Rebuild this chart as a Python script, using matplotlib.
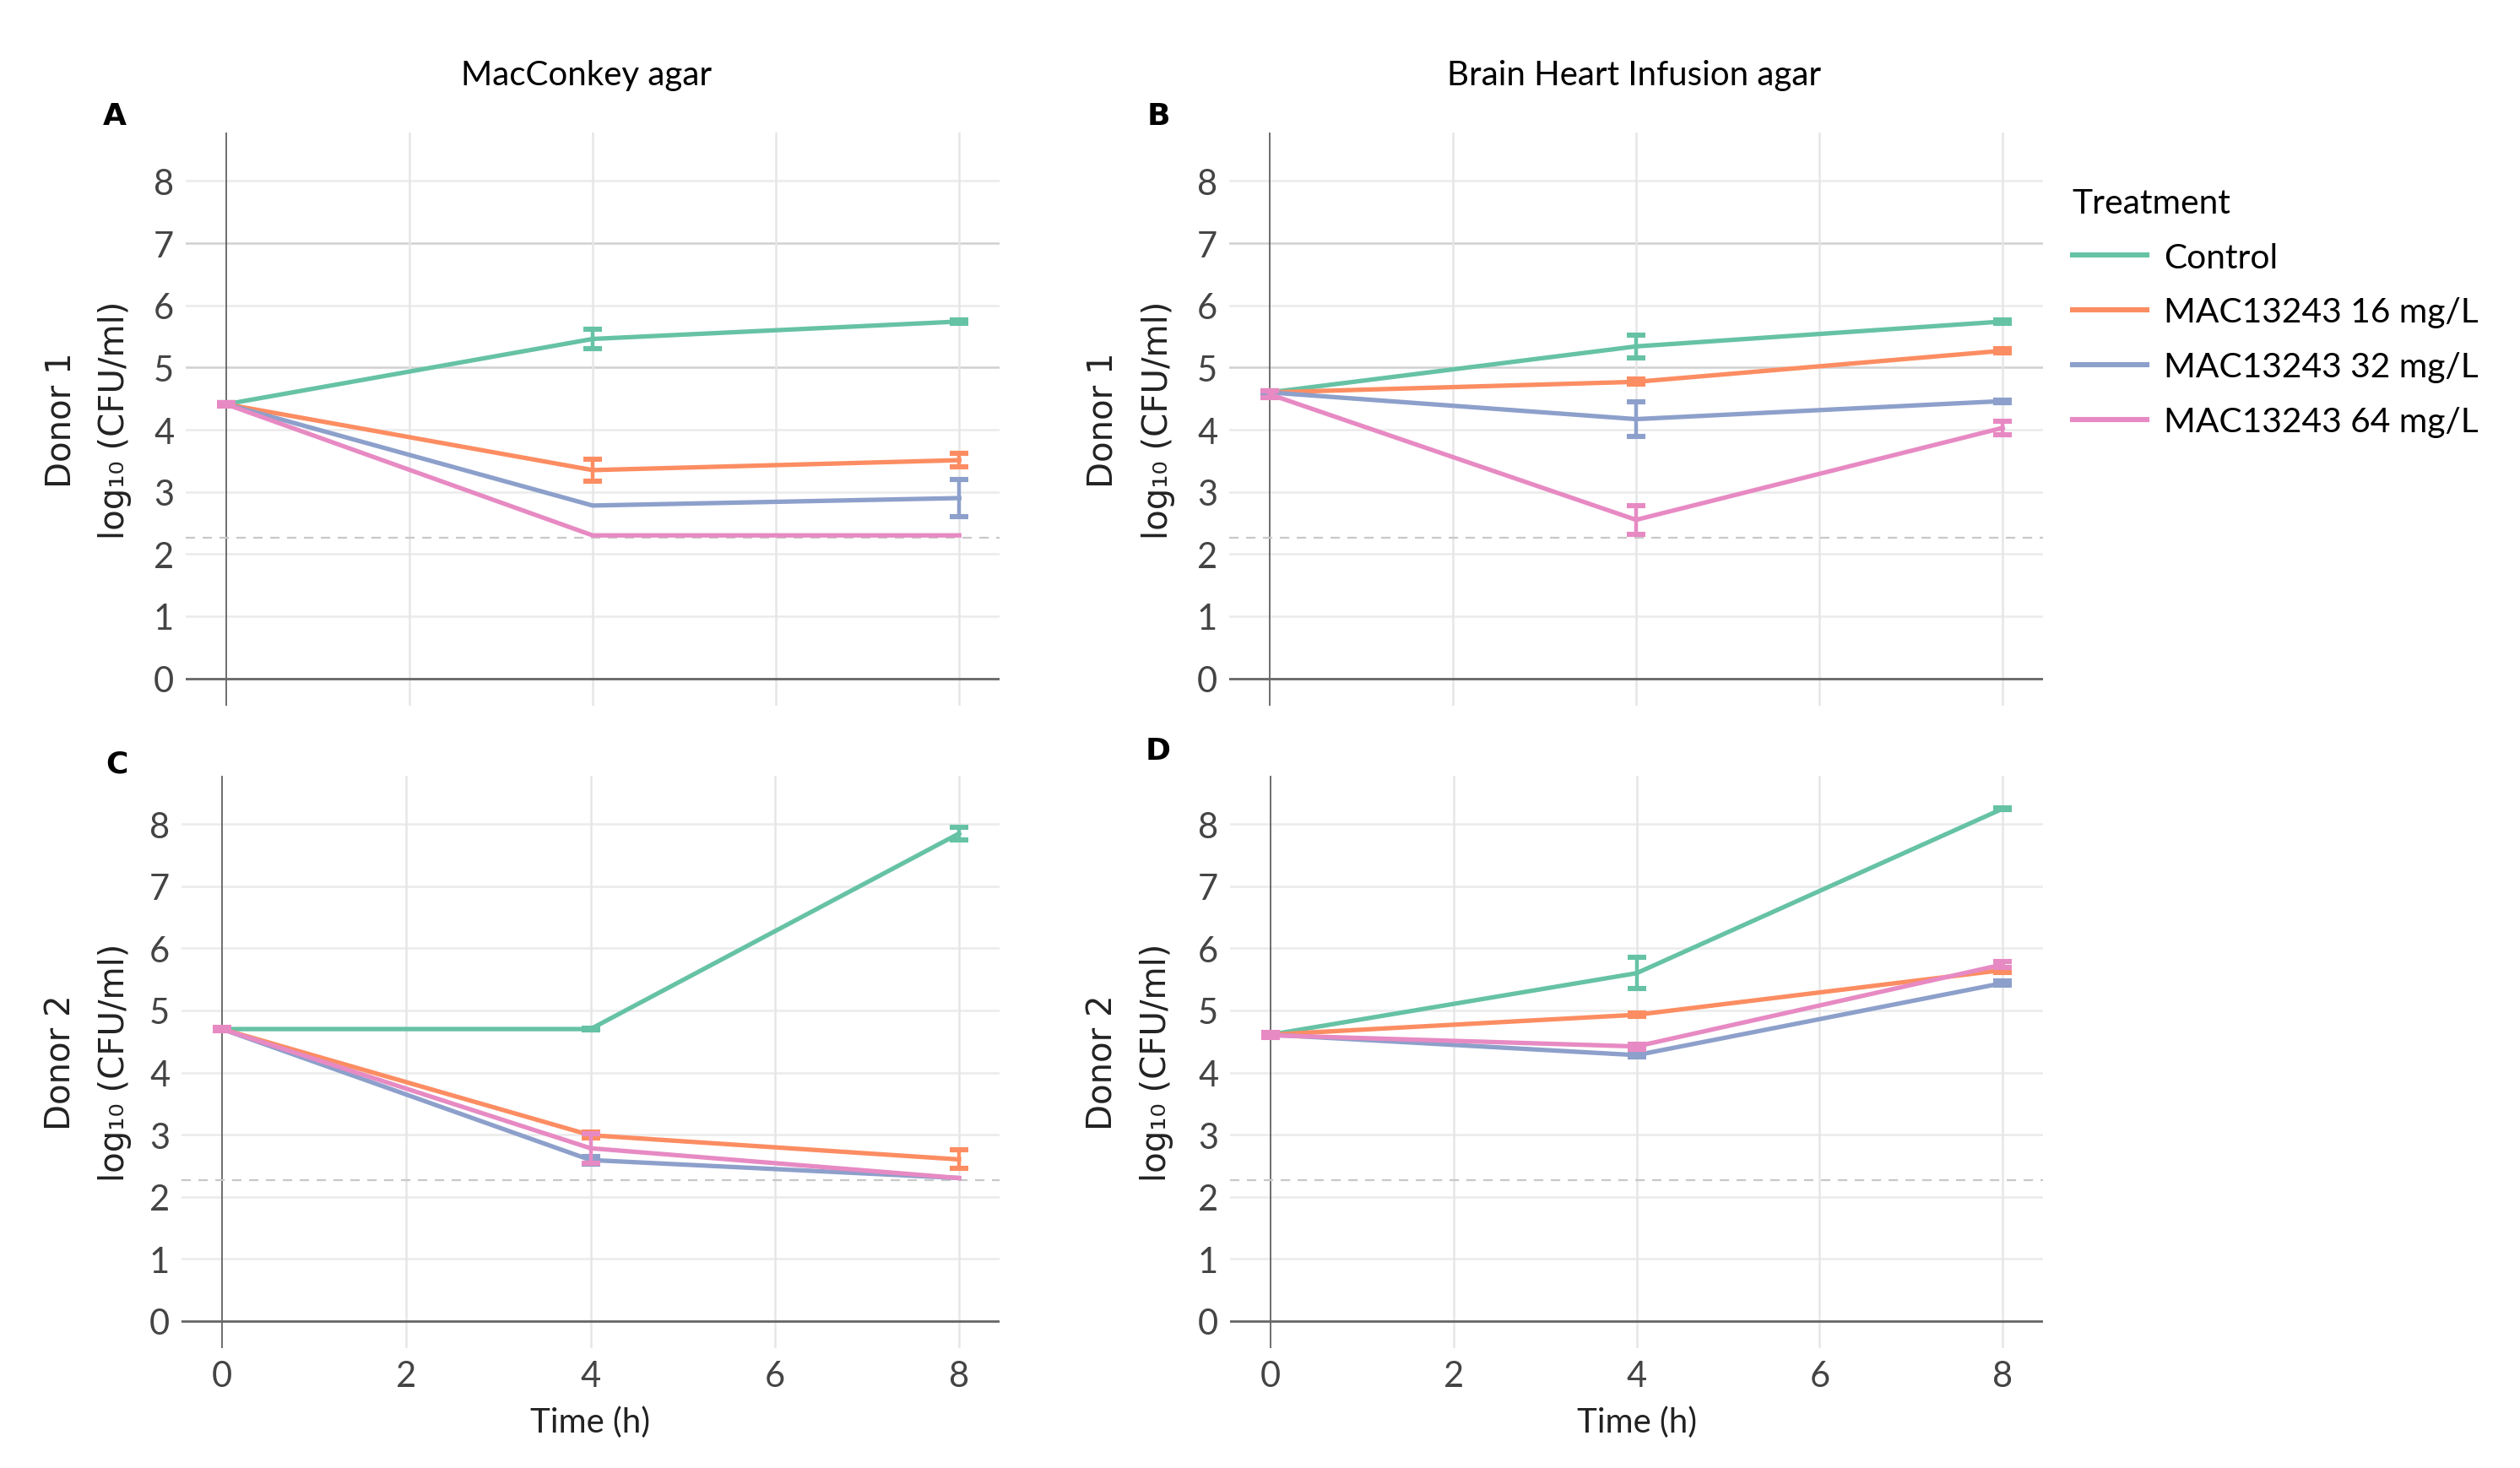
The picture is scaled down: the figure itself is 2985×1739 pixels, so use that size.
import matplotlib.pyplot as plt
from matplotlib.lines import Line2D
import numpy as np

# time points (h)
times = [0, 4, 8]
treatments = ['Control', 'MAC13243 16 mg/L', 'MAC13243 32 mg/L', 'MAC13243 64 mg/L']
colors = ['#66c2a5', '#fc8d62', '#8da0cb', '#e78ac3']
nan = np.nan

# log10 CFU/ml, rows = treatments
mac_d1 = [[4.41, 5.46, 5.74], [4.41, 3.35, 3.51], [4.41, 2.78, 2.90], [4.41, 2.30, 2.30]]
mac_d1_err = [[0.02, 0.16, 0.03], [0.02, 0.18, 0.11], [0.02, nan, 0.30], [0.03, nan, nan]]

bhi_d1 = [[4.60, 5.34, 5.74], [4.60, 4.77, 5.27], [4.60, 4.17, 4.46], [4.57, 2.55, 4.03]]
bhi_d1_err = [[0.02, 0.18, 0.03], [0.02, 0.04, 0.03], [0.02, 0.28, 0.02], [0.05, 0.23, 0.11]]

mac_d2 = [[4.70, 4.70, 7.85], [4.70, 2.99, 2.60], [4.70, 2.59, 2.30], [4.70, 2.78, 2.30]]
mac_d2_err = [[0.02, 0.02, 0.10], [0.02, 0.05, 0.15], [0.02, 0.06, nan], [0.03, 0.24, nan]]

bhi_d2 = [[4.61, 5.60, 8.25], [4.61, 4.93, 5.65], [4.61, 4.28, 5.44], [4.60, 4.42, 5.74]]
bhi_d2_err = [[0.02, 0.25, 0.02], [0.02, 0.03, 0.04], [0.02, 0.03, 0.03], [0.04, 0.04, 0.05]]

detection_limit = 2.26
yticks = [0, 1, 2, 3, 4, 5, 6, 7, 8]
xticks = [0, 2, 4, 6, 8]

W, H = 2985, 1740
fig = plt.figure(figsize=(W / 200, H / 200), dpi=200)

narrow = 'Lato'


def px_axes(x0, y0, x1, y1):
    # axes from pixel box (top-left origin)
    return fig.add_axes([x0 / W, 1 - y1 / H, (x1 - x0) / W, (y1 - y0) / H])


panels = [
    (px_axes(220, 158, 1184, 837), mac_d1, mac_d1_err, False),
    (px_axes(1456, 158, 2420, 837), bhi_d1, bhi_d1_err, False),
    (px_axes(215, 920, 1184, 1598), mac_d2, mac_d2_err, True),
    (px_axes(1457, 920, 2420, 1598), bhi_d2, bhi_d2_err, True),
]

for ax, means, errs, bottom in panels:
    ax.set_xlim(-0.44, 8.44)
    ax.set_ylim(-0.44, 8.78)
    for s in ax.spines.values():
        s.set_visible(False)

    # grid
    for y in yticks[1:]:
        c = '#d0d0d0' if (not bottom and y in (5, 7)) else '#ebebeb'
        ax.axhline(y, color=c, lw=0.9, zorder=0)
    for x in xticks[1:]:
        ax.axvline(x, color='#e6e6e6', lw=0.9, zorder=0)
    ax.axvline(0, color='#555555', lw=0.6, zorder=1)
    ax.axhline(0, color='#666666', lw=1.0, zorder=1)
    ax.axhline(detection_limit, color='#c8c8c8', lw=0.8, ls=(0, (5, 4)), zorder=1)

    for i in range(4):
        ax.errorbar(times, means[i], yerr=errs[i], color=colors[i], lw=1.9,
                    elinewidth=1.6, capsize=3.8, capthick=2.2, zorder=3 + i)

    ax.set_yticks(yticks)
    ax.set_xticks(xticks)
    ax.tick_params(length=0, labelsize=15, labelcolor='#444444', pad=5)
    for lab in ax.get_yticklabels() + ax.get_xticklabels():
        lab.set_family(narrow)
    if not bottom:
        ax.set_xticklabels([])
    else:
        ax.set_xlabel('Time (h)', fontsize=14.5, family=narrow, labelpad=6, color='#222222')

# y labels (two lines), panel letters, column titles
ylab = dict(rotation=90, ha='center', va='center', fontsize=14.5, color='#222222')
fig.text(72 / W, 1 - 498 / H, 'Donor 1', **ylab)
fig.text(136 / W, 1 - 498 / H, 'log₁₀ (CFU/ml)', **ylab)
fig.text(1306 / W, 1 - 498 / H, 'Donor 1', **ylab)
fig.text(1372 / W, 1 - 498 / H, 'log₁₀ (CFU/ml)', **ylab)
fig.text(72 / W, 1 - 1259 / H, 'Donor 2', **ylab)
fig.text(136 / W, 1 - 1259 / H, 'log₁₀ (CFU/ml)', **ylab)
fig.text(1306 / W, 1 - 1259 / H, 'Donor 2', **ylab)
fig.text(1370 / W, 1 - 1259 / H, 'log₁₀ (CFU/ml)', **ylab)

fig.text(136 / W, 1 - 138 / H, 'A', ha='center', va='center', fontsize=13, weight='bold')
fig.text(1372 / W, 1 - 138 / H, 'B', ha='center', va='center', fontsize=13, weight='bold')
fig.text(138 / W, 1 - 906 / H, 'C', ha='center', va='center', fontsize=13, weight='bold')
fig.text(1372 / W, 1 - 890 / H, 'D', ha='center', va='center', fontsize=13, weight='bold')

fig.text(695 / W, 1 - 90 / H, 'MacConkey agar', ha='center', va='center', fontsize=14.5, family=narrow)
fig.text(1936 / W, 1 - 90 / H, 'Brain Heart Infusion agar', ha='center', va='center', fontsize=14.5, family=narrow)

# legend
handles = [Line2D([0], [0], color=c, lw=2.2) for c in colors]
leg = fig.legend(handles, treatments, title='Treatment', loc='upper left',
                 bbox_to_anchor=(2418 / W, 1 - 186 / H), frameon=False,
                 prop={'family': 'Lato', 'size': 14.7}, handlelength=2.15,
                 handletextpad=0.5, labelspacing=0.68)
leg.get_title().set_fontsize(14.7)
leg.get_title().set_family('Lato')
leg._legend_box.align = 'left'

fig.savefig('out.png', dpi=200, facecolor='white')
